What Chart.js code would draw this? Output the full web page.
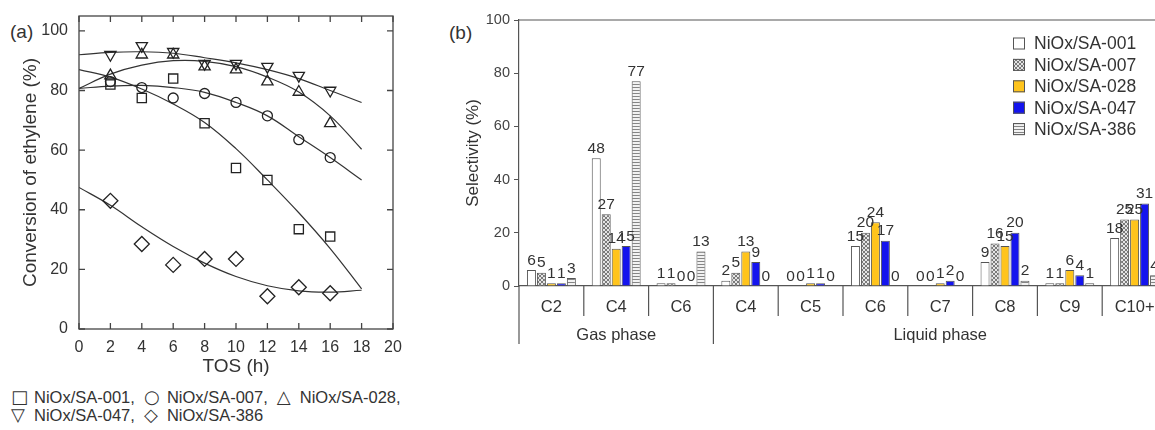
<!doctype html>
<html>
<head>
<script src="https://cdn.jsdelivr.net/npm/chart.js@4.4.0/dist/chart.umd.min.js"></script>
<style>
    body {
        margin: 0;
        width: 1155px;
        height: 430px;
        overflow: hidden;
        position: relative;
        background: #fff;
        color: #333;
        font-family: "Liberation Sans", Arial, Helvetica, sans-serif;
    }
    #boxA { position: absolute; left: 0; top: 0; width: 410px; height: 380px; }
    #boxB { position: absolute; left: 440px; top: 0; width: 740px; height: 360px; }
    .tag { position: absolute; font-size: 19px; line-height: 19px; }
    #legA { position: absolute; left: 11px; top: 388px; font-size: 16.5px; line-height: 18px; white-space: nowrap; }
    #legA span { display: inline-block; width: 23px; font-family: "DejaVu Sans", sans-serif; font-size: 18px; }
    #legA span.gap { margin-left: 9px; }
</style>
</head>
<body>
<div class="tag" style="left:10px; top:22px">(a)</div>
<div class="tag" style="left:449px; top:23px">(b)</div>
<div id="boxA"><canvas id="chartA"></canvas></div>
<div id="boxB"><canvas id="chartB"></canvas></div>
<div id="legA"><span>□</span>NiOx/SA-001,<span class="gap">○</span>NiOx/SA-007,<span class="gap">△</span>NiOx/SA-028,<br><span>▽</span>NiOx/SA-047,<span class="gap">◇</span>NiOx/SA-386</div>
<script>
Chart.defaults.font.family = '"Liberation Sans", Arial, Helvetica, sans-serif';
Chart.defaults.color = '#333';
Chart.defaults.animation = false;

// ---------- (a) conversion vs time on stream ----------
const tos = [2, 4, 6, 8, 10, 12, 14, 16];
const conv001 = [82, 77.5, 84, 69, 54, 50, 33.5, 31];
const conv007 = [83, 81, 77.5, 79, 76, 71.5, 63.5, 57.5];
const conv028 = [85, 92, 92, 88, 87, 83, 79.5, 69];
const conv047 = [92, 95, 93, 89, 89, 88, 85, 80];
const conv386 = [43, 28.5, 21.5, 23.5, 23.5, 11, 14, 12];

// fitted trend lines
const fitTos = [0, 2, 4, 6, 8, 10, 12, 14, 16, 18];
const fit001 = [87, 84.5, 80.5, 75.5, 69.3, 60.5, 50, 39, 27, 13.5];
const fit007 = [80.7, 81.5, 81.7, 81, 79.4, 76, 71.5, 64.5, 57.5, 50];
const fit028 = [80.7, 85.5, 88.5, 90, 89.8, 88, 84.5, 79.5, 71.5, 60.3];
const fit047 = [92, 92.8, 93, 92.5, 91, 89.3, 87, 84, 80, 76];
const fit386 = [47.5, 41.5, 34.3, 27.7, 22.1, 17.6, 14.5, 12.8, 12.4, 13];

function pts(xs, ys) {
    return xs.map((x, i) => ({ x: x, y: ys[i] }));
}

function marks(label, ys, style, r, rot) {
    return {
        label: label,
        data: pts(tos, ys),
        showLine: false,
        pointStyle: style,
        pointRadius: r,
        pointRotation: rot || 0,
        backgroundColor: 'rgba(0,0,0,0)',
        borderColor: '#222',
        pointBorderWidth: 1.3,
        order: 0
    };
}

function fit(ys) {
    return {
        data: pts(fitTos, ys),
        showLine: true,
        pointRadius: 0,
        borderColor: '#333',
        borderWidth: 1.2,
        tension: 0.4,
        order: 1
    };
}

// box round the plot with ticks pointing in, on all four sides
const frameTicks = {
    id: 'frameTicks',
    afterDraw(chart) {
        const { ctx, chartArea: a } = chart;
        const x = chart.scales.x, y = chart.scales.y;
        ctx.save();
        ctx.strokeStyle = '#444';
        ctx.lineWidth = 1.3;
        ctx.strokeRect(a.left, a.top, a.right - a.left, a.bottom - a.top);
        ctx.beginPath();
        x.ticks.forEach(t => {
            const px = x.getPixelForValue(t.value);
            ctx.moveTo(px, a.bottom); ctx.lineTo(px, a.bottom - 6);
            ctx.moveTo(px, a.top); ctx.lineTo(px, a.top + 6);
        });
        y.ticks.forEach(t => {
            const py = y.getPixelForValue(t.value);
            ctx.moveTo(a.left, py); ctx.lineTo(a.left + 6, py);
            ctx.moveTo(a.right, py); ctx.lineTo(a.right - 6, py);
        });
        ctx.stroke();
        ctx.restore();
    }
};

new Chart(document.getElementById('chartA'), {
    type: 'scatter',
    data: {
        datasets: [
            marks('NiOx/SA-001', conv001, 'rect', 6.5),
            marks('NiOx/SA-007', conv007, 'circle', 5),
            marks('NiOx/SA-028', conv028, 'triangle', 6.5),
            marks('NiOx/SA-047', conv047, 'triangle', 6.5, 180),
            marks('NiOx/SA-386', conv386, 'rectRot', 7.5),
            fit(fit001), fit(fit007), fit(fit028), fit(fit047), fit(fit386)
        ]
    },
    options: {
        responsive: true,
        maintainAspectRatio: false,
        layout: { padding: { top: 16, right: 17, left: 0, bottom: 0 } },
        plugins: { legend: { display: false }, tooltip: { enabled: false } },
        scales: {
            x: {
                type: 'linear', min: 0, max: 20,
                grid: { display: false }, border: { display: false },
                ticks: { stepSize: 2, padding: 1, font: { size: 16 }, color: '#333' },
                title: { display: true, text: 'TOS (h)', font: { size: 19 }, color: '#333', padding: { top: 0, bottom: 2 } },
                afterFit(s) { s.height = 51; }
            },
            y: {
                min: 0, max: 105,
                grid: { display: false }, border: { display: false },
                ticks: { stepSize: 20, includeBounds: false, padding: 3, font: { size: 16 }, color: '#333' },
                title: { display: true, text: 'Conversion of ethylene (%)', font: { size: 19 }, color: '#333', padding: { top: 19, bottom: 0 } },
                afterFit(s) { s.width = 79; }
            }
        }
    },
    plugins: [frameTicks]
});

// ---------- (b) product selectivity ----------
const carbons = ['C2', 'C4', 'C6', 'C4', 'C5', 'C6', 'C7', 'C8', 'C9', 'C10+'];
const phaseNames = ['Gas phase', 'Liquid phase'];
const phaseSizes = [3, 7];
const sel001 = [6, 48, 1, 2, 0, 15, 0, 9, 1, 18];
const sel007 = [5, 27, 1, 5, 0, 20, 0, 16, 1, 25];
const sel028 = [1, 14, 0, 13, 1, 24, 1, 15, 6, 25];
const sel047 = [1, 15, 0, 9, 1, 17, 2, 20, 4, 31];
const sel386 = [3, 77, 13, 0, 0, 0, 0, 2, 1, 4];

function crossHatch() {
    const c = document.createElement('canvas');
    c.width = 4; c.height = 4;
    const g = c.getContext('2d');
    g.fillStyle = '#e4e4e4';
    g.fillRect(0, 0, 4, 4);
    g.fillStyle = '#7a7a7a';
    for (let i = 0; i < 4; i++) {
        g.fillRect(i, i, 1, 1);
        g.fillRect(3 - i, i, 1, 1);
    }
    return g.createPattern(c, 'repeat');
}

function hStripes() {
    const c = document.createElement('canvas');
    c.width = 2; c.height = 3;
    const g = c.getContext('2d');
    g.fillStyle = '#f2f2f2';
    g.fillRect(0, 0, 2, 3);
    g.fillStyle = '#858585';
    g.fillRect(0, 0, 2, 1);
    return g.createPattern(c, 'repeat');
}

function bars(label, data, fill) {
    return {
        label: label,
        data: data,
        backgroundColor: fill,
        borderColor: '#555',
        borderWidth: 1,
        categoryPercentage: 0.77,
        barPercentage: 0.9
    };
}

// numbers over the bars
const barValues = {
    id: 'barValues',
    afterDatasetsDraw(chart) {
        const ctx = chart.ctx;
        ctx.save();
        ctx.font = '15.5px "Liberation Sans", Arial, sans-serif';
        ctx.fillStyle = '#333';
        ctx.textAlign = 'center';
        ctx.textBaseline = 'bottom';
        chart.data.datasets.forEach((ds, i) => {
            chart.getDatasetMeta(i).data.forEach((bar, j) => {
                ctx.fillText(String(ds.data[j]), bar.x, bar.y - 2);
            });
        });
        ctx.restore();
    }
};

// category dividers, phase labels, top frame line, legend
const axisDecor = {
    id: 'axisDecor',
    afterDraw(chart) {
        const { ctx, chartArea: a } = chart;
        const x = chart.scales.x;
        const half = (x.getPixelForValue(1) - x.getPixelForValue(0)) / 2;
        ctx.save();
        ctx.strokeStyle = '#555';
        ctx.lineWidth = 1.2;
        ctx.beginPath();
        ctx.moveTo(a.left, a.top); ctx.lineTo(a.right, a.top);
        const starts = [0];
        phaseSizes.forEach(n => starts.push(starts[starts.length - 1] + n));
        for (let i = 0; i <= carbons.length; i++) {
            const px = x.getPixelForValue(i) - half;
            const long = starts.includes(i);
            ctx.moveTo(px, a.bottom);
            ctx.lineTo(px, a.bottom + (long ? 58 : 30));
        }
        ctx.stroke();

        ctx.font = '16.5px "Liberation Sans", Arial, sans-serif';
        ctx.fillStyle = '#333';
        ctx.textAlign = 'center';
        ctx.textBaseline = 'middle';
        phaseNames.forEach((name, k) => {
            const l = x.getPixelForValue(starts[k]) - half;
            const r = x.getPixelForValue(starts[k + 1]) - half;
            ctx.fillText(name, (l + r) / 2, a.bottom + 49);
        });

        // legend in the top right corner
        ctx.font = '17.5px "Liberation Sans", Arial, sans-serif';
        ctx.textAlign = 'left';
        chart.data.datasets.forEach((ds, i) => {
            const cy = 43.5 + i * 21.4;
            ctx.fillStyle = ds.backgroundColor;
            ctx.fillRect(573, cy - 6, 12, 12);
            ctx.lineWidth = 1;
            ctx.strokeStyle = '#555';
            ctx.strokeRect(573.5, cy - 5.5, 11, 11);
            ctx.fillStyle = '#333';
            ctx.fillText(ds.label, 594, cy + 1);
        });
        ctx.restore();
    }
};

new Chart(document.getElementById('chartB'), {
    type: 'bar',
    data: {
        labels: carbons,
        datasets: [
            bars('NiOx/SA-001', sel001, '#ffffff'),
            bars('NiOx/SA-007', sel007, crossHatch()),
            bars('NiOx/SA-028', sel028, '#ffc41c'),
            bars('NiOx/SA-047', sel047, '#1414ee'),
            bars('NiOx/SA-386', sel386, hStripes())
        ]
    },
    options: {
        responsive: true,
        maintainAspectRatio: false,
        layout: { padding: { top: 20, right: 13, left: 0, bottom: 0 } },
        plugins: { legend: { display: false }, tooltip: { enabled: false } },
        scales: {
            x: {
                grid: { display: false },
                border: { display: true, color: '#555', width: 1.2 },
                ticks: { padding: 4, font: { size: 16.5 }, color: '#333', maxRotation: 0, autoSkip: false },
                afterFit(s) { s.height = 74; }
            },
            y: {
                min: 0, max: 100,
                grid: { drawOnChartArea: false, tickLength: 5, color: '#555' },
                border: { display: true, color: '#555', width: 1.2 },
                ticks: { stepSize: 20, padding: 4, font: { size: 14.5 }, color: '#444' },
                title: { display: true, text: 'Selectivity (%)', font: { size: 17 }, color: '#333', padding: { top: 23, bottom: 0 } },
                afterFit(s) { s.width = 79; }
            }
        }
    },
    plugins: [barValues, axisDecor]
});
</script>
</body>
</html>
